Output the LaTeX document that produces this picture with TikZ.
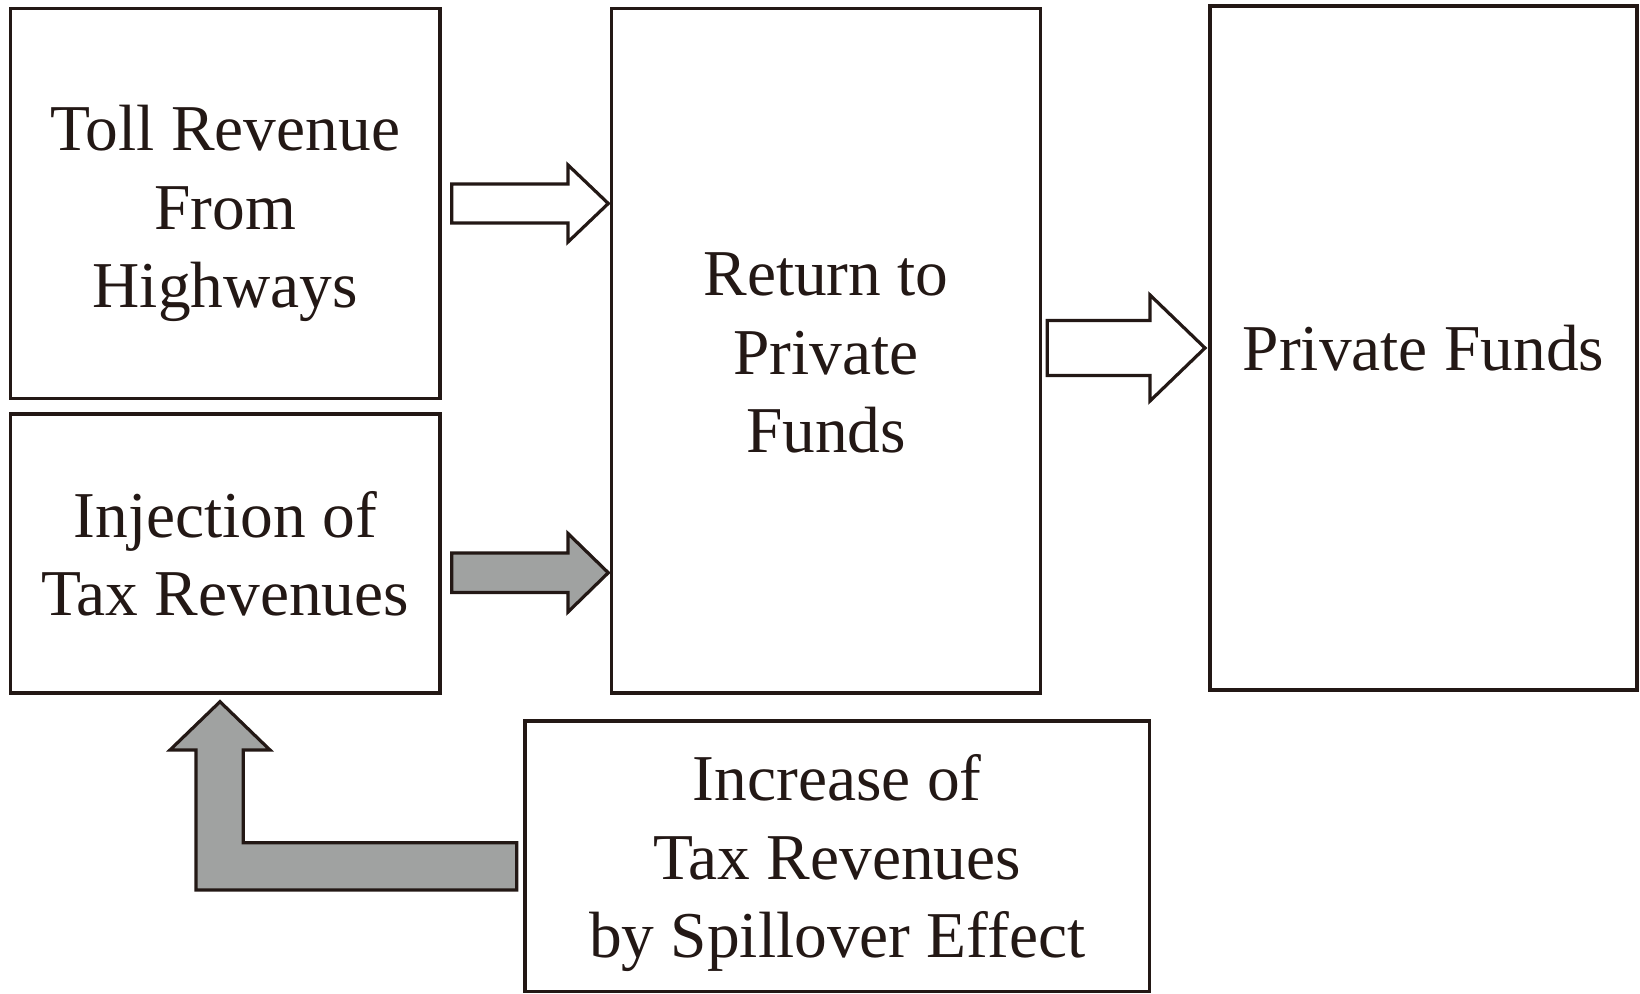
\documentclass[tikz,border=0pt]{standalone}
\usepackage{fontspec}
\setmainfont{Liberation Serif}
\definecolor{ink}{HTML}{231815}
\definecolor{shade}{HTML}{A0A2A1}
\begin{document}
\begin{tikzpicture}[x=0.5pt,y=-0.5pt,
  box/.style={draw=ink, line width=1.75pt, fill=white, inner sep=0pt},
  boxtext/.style={inner sep=0pt, align=center, text=ink,
    font=\fontsize{32.7}{39.2}\selectfont},
  blockarrow/.style={draw=ink, line width=1.6pt, line join=miter},
  hollowarrow/.style={blockarrow, fill=white},
  greyarrow/.style={blockarrow, fill=shade}]
\useasboundingbox (0,0) rectangle (1640,994);

% boxes
\node[box, minimum width=214.75pt, minimum height=195.05pt] (toll) at (225.25,203.45) {};
\node[box, minimum width=214.75pt, minimum height=139.5pt] (inject) at (225.25,553.5) {};
\node[box, minimum width=214.5pt, minimum height=342.3pt] (ret) at (826,350.7) {};
\node[box, minimum width=213.5pt, minimum height=342pt] (funds) at (1423.5,348) {};
\node[box, minimum width=312.25pt, minimum height=135.25pt] (spill) at (837.25,856.25) {};

% box labels
\node[boxtext] (tolltext) at ([yshift=-5pt]toll.center) {Toll Revenue\\From\\Highways};
\node[boxtext] (injecttext) at (inject.center) {Injection of\\Tax Revenues};
\node[boxtext] (rettext) at ([yshift=-1.2pt]ret.center) {Return to\\Private\\Funds};
\node[boxtext] (fundstext) at (funds.center) {Private Funds};
\node[boxtext] (spilltext) at ([yshift=-3.5pt]spill.center)
  {Increase of\\Tax Revenues\\by Spillover Effect};

% toll revenue -> return to private funds
\draw[hollowarrow] (451.7,184) -- (568,184) -- (568,165) -- (608.3,203.5)
  -- (568,242) -- (568,223) -- (451.7,223) -- cycle;
% injection of tax revenues -> return to private funds
\draw[greyarrow] (451.7,553) -- (568,553) -- (568,533.5) -- (608.3,572.75)
  -- (568,612) -- (568,592.5) -- (451.7,592.5) -- cycle;
% return to private funds -> private funds
\draw[hollowarrow] (1047.3,320.5) -- (1150,320.5) -- (1150,295) -- (1205,348)
  -- (1150,401) -- (1150,375.5) -- (1047.3,375.5) -- cycle;
% spillover effect -> injection of tax revenues
\draw[greyarrow] (220,701.7) -- (270,750) -- (243.3,750) -- (243.3,842.7)
  -- (516.7,842.7) -- (516.7,890) -- (196,890) -- (196,750) -- (170,750) -- cycle;
\end{tikzpicture}
\end{document}
